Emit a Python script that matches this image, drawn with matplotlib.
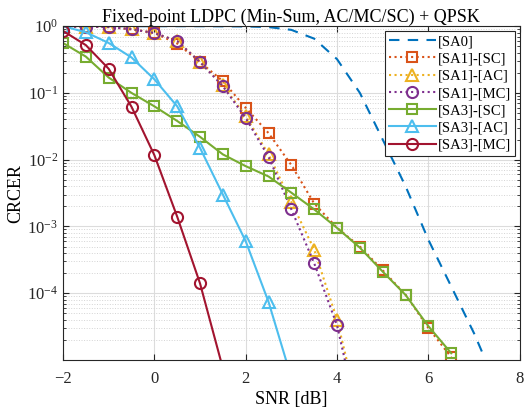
import numpy as np
import matplotlib
matplotlib.use("Agg")
import matplotlib.pyplot as plt

plt.rcParams['font.family'] = ['Liberation Serif', 'DejaVu Serif']
plt.rcParams['mathtext.fontset'] = 'custom'
plt.rcParams['mathtext.rm'] = 'Liberation Serif'
plt.rcParams['mathtext.it'] = 'Liberation Serif:italic'

snr = np.arange(-2, 6.51, 0.5)

# [SA0] - smooth dashed curve
sa0_x = [-2, -1, 0, 1, 2, 2.5, 3, 3.5, 4, 4.5, 5, 5.5, 6, 6.5, 7, 7.2]
sa0_y = [1.0, 1.0, 1.0, 1.0, 0.99, 0.97, 0.88, 0.65, 0.32, 0.1, 0.02,
         4e-3, 6.3e-4, 1.26e-4, 2.5e-5, 1.2e-5]

sa1_sc_x = snr
sa1_sc_y = [0.98, 0.98, 0.97, 0.9, 0.79, 0.55, 0.29, 0.15, 0.06, 0.025,
            8.3e-3, 2.2e-3, 9.5e-4, 5e-4, 2.2e-4, 9.5e-5, 3e-5, 1.1e-5]

sa1_ac_x = [-2, -1.5, -1, -0.5, 0, 0.5, 1, 1.5, 2, 2.5, 3, 3.5, 4, 4.5]
sa1_ac_y = [0.99, 0.98, 0.97, 0.9, 0.79, 0.6, 0.29, 0.13, 0.045, 0.012,
            2.3e-3, 4.5e-4, 4e-5, 1.5e-6]

sa1_mc_x = [-2, -1.5, -1, -0.5, 0, 0.5, 1, 1.5, 2, 2.5, 3, 3.5, 4, 4.5]
sa1_mc_y = [0.98, 0.98, 0.97, 0.9, 0.79, 0.6, 0.29, 0.126, 0.042, 0.011,
            1.8e-3, 2.8e-4, 3.3e-5, 1e-6]

sa3_sc_x = snr
sa3_sc_y = [0.56, 0.35, 0.17, 0.1, 0.063, 0.038, 0.022, 0.012, 8e-3, 5.6e-3,
            3.2e-3, 1.8e-3, 9.5e-4, 4.8e-4, 2.1e-4, 9.4e-5, 3.2e-5, 1.26e-5]

sa3_ac_x = [-2, -1.5, -1, -0.5, 0, 0.5, 1, 1.5, 2, 2.5, 3]
sa3_ac_y = [1.0, 0.81, 0.56, 0.34, 0.16, 0.063, 0.015, 3e-3, 6e-4, 7.4e-5, 5.4e-6]

sa3_mc_x = [-2, -1.5, -1, -0.5, 0, 0.5, 1, 1.5]
sa3_mc_y = [0.85, 0.52, 0.23, 0.062, 0.0117, 1.4e-3, 1.4e-4, 7.5e-6]

fig = plt.figure(figsize=(5.25, 4.09), dpi=100)
ax = fig.add_axes([0.12, 0.12, 0.87, 0.816])

ax.semilogy(sa0_x, sa0_y, '--', color='#0072BD', lw=1.5, dashes=(5, 4), label='[SA0]')
ax.semilogy(sa1_sc_x, sa1_sc_y, ':', color='#D95319', lw=1.5, marker='s', ms=6.5,
            mfc='none', mew=1.5, label='[SA1]-[SC]')
ax.semilogy(sa1_ac_x, sa1_ac_y, ':', color='#EDB120', lw=1.5, marker='^', ms=8.5,
            mfc='none', mew=1.5, label='[SA1]-[AC]')
ax.semilogy(sa1_mc_x, sa1_mc_y, ':', color='#7E2F8E', lw=1.5, marker='o', ms=8,
            mfc='none', mew=1.5, label='[SA1]-[MC]')
ax.semilogy(sa3_sc_x, sa3_sc_y, '-', color='#77AC30', lw=1.5, marker='s', ms=6.5,
            mfc='none', mew=1.5, label='[SA3]-[SC]')
ax.semilogy(sa3_ac_x, sa3_ac_y, '-', color='#4DBEEE', lw=1.5, marker='^', ms=8.5,
            mfc='none', mew=1.5, label='[SA3]-[AC]')
ax.semilogy(sa3_mc_x, sa3_mc_y, '-', color='#A2142F', lw=1.5, marker='o', ms=8,
            mfc='none', mew=1.5, label='[SA3]-[MC]')

ax.set_xlim(-2, 8)
ax.set_ylim(1e-5, 1)
ax.set_xticks([-2, 0, 2, 4, 6, 8])
ax.set_yticks([1e0, 1e-1, 1e-2, 1e-3, 1e-4])
ax.grid(True, which='major', color='#dcdcdc', lw=0.8)
ax.grid(True, which='minor', color='#d4d4d4', lw=0.7, ls=':')
ax.tick_params(which='both', direction='in', top=True, right=True, colors='#262626',
               labelsize=12)
ax.tick_params(axis='x', pad=8)
ax.tick_params(which='major', length=4)
ax.tick_params(which='minor', length=2)
for s in ax.spines.values():
    s.set_color('#262626')

ax.set_xlabel('SNR [dB]', fontsize=13, labelpad=3)
ax.set_ylabel('CRCER', fontsize=13, labelpad=2)
ax.set_title('Fixed-point LDPC (Min-Sum, AC/MC/SC) + QPSK', fontsize=13, pad=3)

leg = ax.legend(loc='upper right', fontsize=10.5, fancybox=False, framealpha=1,
                edgecolor='#262626', handlelength=3.2, borderpad=0.3,
                labelspacing=0.28, handletextpad=0.15, borderaxespad=0.3)
leg.get_frame().set_linewidth(0.8)

fig.savefig('out.png', dpi=100)
